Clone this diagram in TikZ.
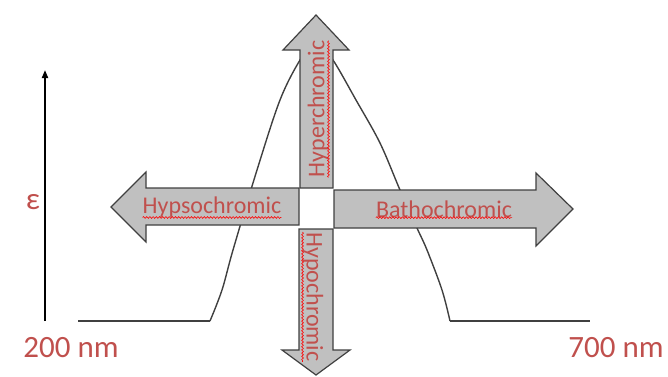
\documentclass[tikz,border=0pt]{standalone}
\usepackage{fontspec}
\setmainfont{Carlito}
\usetikzlibrary{arrows.meta,decorations.pathmorphing}
\definecolor{blockgray}{HTML}{C0C0C0}
\definecolor{blockline}{HTML}{404040}
\definecolor{labelred}{HTML}{C0504D}
\tikzset{
  block/.style={fill=blockgray,draw=blockline,line width=1.2pt,line join=miter},
  blocktext/.style={inner sep=0pt,text=labelred,font=\fontsize{24}{28}\selectfont},
  axistext/.style={inner sep=0pt,text=labelred,font=\fontsize{31}{36}\selectfont},
  squiggle/.style={red,line width=0.6pt,decorate,
    decoration={snake,segment length=3.2pt,amplitude=0.9pt}}
}
\begin{document}
\begin{tikzpicture}[x=1pt,y=-1pt]
            \useasboundingbox (0,0) rectangle (668,376);

            % axes and band
            \draw[-{Triangle[length=8pt,width=6pt]},line width=1.8pt] (45,321) -- (45,70);
            \draw[blockline,line width=1.4pt] (78,321) -- (210,321);
            \draw[blockline,line width=1.4pt] (450,321) -- (590,321);
            \draw[blockline,line width=1.4pt] plot[smooth,tension=0.55] coordinates
                {(210,321) (222,290) (233,250) (257,170) (280,100) (300,60) (316,40)
                 (333,60) (356,100) (380,143) (400,190) (417,228) (427,250) (442,290) (450,321)};

            \node[axistext] (eps) at (33,202) {ε};
            \node[axistext] (low) at (71,348) {200 nm};
            \node[axistext] (high) at (616,348) {700 nm};

            % block arrows
            \draw[block] (300,188) -- (300,50) -- (283,50) -- (316,15) -- (349,50) -- (333,50) -- (333,188) -- cycle;
            \draw[block] (299,229) -- (299,350) -- (282,350) -- (316,375) -- (350,350) -- (333,350) -- (333,229) -- cycle;
            \draw[block] (299,188) -- (146,188) -- (146,172) -- (111,207) -- (146,242) -- (146,225) -- (299,225) -- cycle;
            \draw[block] (334,190) -- (536,190) -- (536,173) -- (573,209) -- (536,246) -- (536,228) -- (334,228) -- cycle;

            \node[blocktext] (hypso) at (212,207) {Hypsochromic};
            \node[blocktext] (batho) at (444,209) {Bathochromic};
            \node[blocktext,rotate=90] (hyper) at (318,109) {Hyperchromic};
            \node[blocktext,rotate=-90] (hypo) at (313,297) {Hypochromic};

            \draw[squiggle] (hypso.south west) -- (hypso.south east);
            \draw[squiggle] (batho.south west) -- (batho.south east);
            \draw[squiggle] (hyper.south west) -- (hyper.south east);
            \draw[squiggle] (hypo.south west) -- (hypo.south east);
        \end{tikzpicture}
\end{document}
